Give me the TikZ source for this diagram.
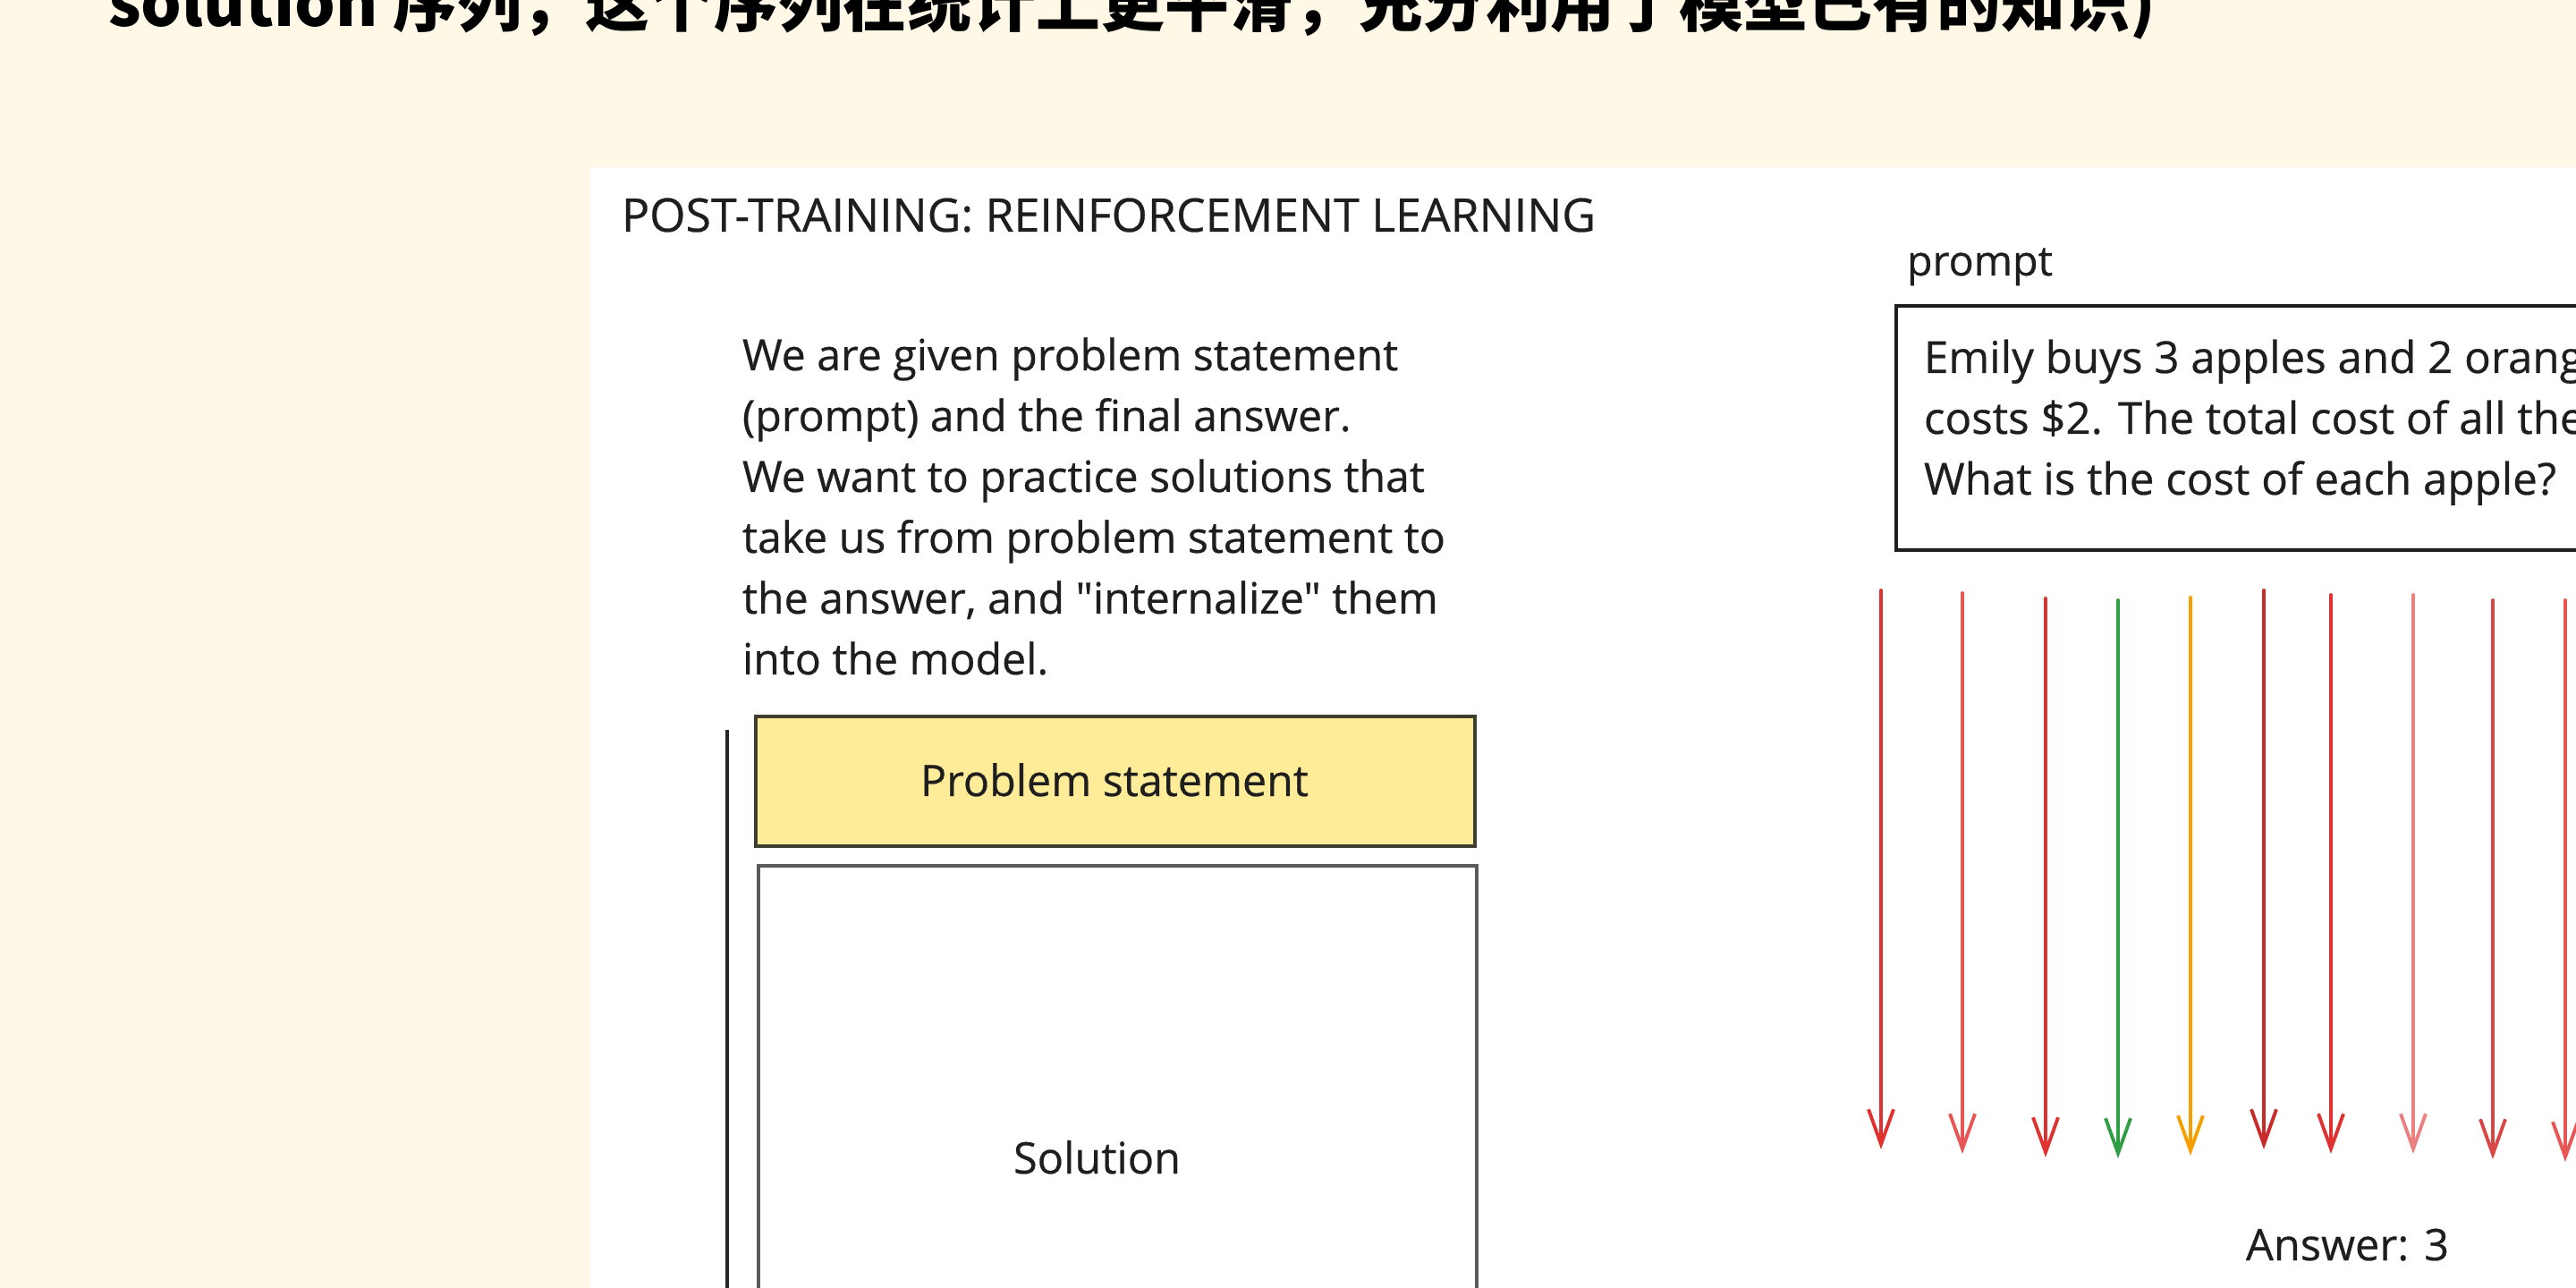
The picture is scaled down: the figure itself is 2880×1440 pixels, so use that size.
\documentclass[tikz,border=0pt]{standalone}
\usepackage{fontspec}
\setmainfont{Open Sans}[FakeBold=0.5, Ligatures=TeXOff]
\newfontfamily\cjk{Noto Sans CJK SC}
\usetikzlibrary{arrows.meta}
\definecolor{bgcream}{HTML}{FFF8E7}
\definecolor{inkgray}{HTML}{1E1E1E}
\definecolor{boxyellow}{HTML}{FFEC99}
\definecolor{yedge}{HTML}{3F3D30}
\definecolor{soledge}{HTML}{5A5A5A}
\definecolor{arred}{HTML}{E03131}
\definecolor{arredl}{HTML}{E85555}
\definecolor{arredd}{HTML}{C92A2A}
\definecolor{arredp}{HTML}{EB8080}
\definecolor{arredm}{HTML}{D84646}
\definecolor{argreen}{HTML}{2F9E44}
\definecolor{arorange}{HTML}{F5A000}
\newlength\fitlen
\newcommand\fitsize[3]{\settowidth{\fitlen}{\fontsize{10pt}{12pt}\selectfont #3}\pgfmathsetmacro#1{10*(#2)/\fitlen}}
\tikzset{
  txt/.style={inner sep=0pt, outer sep=0pt, text=inkgray, anchor=base west},
  boxst/.style={draw, inner sep=0pt, outer sep=0pt, anchor=north west, line width=1.1pt},
  rlarrow/.style={line width=1.1pt, line cap=round, -{Straight Barb[length=3.9mm,width=2.8mm]}},
}
\begin{document}
\fitsize{\titsz}{228.9mm}{\cjk\bfseries solution 序列，这个序列在统计上更平滑，充分利用了模型已有的知识)}%
\fitsize{\headsz}{108.9mm}{POST-TRAINING: REINFORCEMENT LEARNING}%
\fitsize{\parsz}{78.6mm}{take us from problem statement to}%
\fitsize{\prsz}{70.7mm}{What is the cost of each apple?}%
\fitsize{\plsz}{16.3mm}{prompt}%
\fitsize{\pssz}{43.4mm}{Problem statement}%
\fitsize{\solsz}{18.7mm}{Solution}%
\fitsize{\anssz}{22.7mm}{Answer: 3}%
\begin{tikzpicture}[x=0.1mm,y=-0.1mm]
\useasboundingbox (0,0) rectangle (2880,1440);
\clip (0,0) rectangle (2880,1440);
% backgrounds
\fill[bgcream] (0,0) rectangle (2880,1440);
\fill[white] (660,187) rectangle (2900,1460);
% top cut-off caption
\node[txt, text=black, font={\cjk\bfseries\fontsize{\titsz pt}{\titsz pt}\selectfont}] (cap) at (121,30)
  {solution 序列，这个序列在统计上更平滑，充分利用了模型已有的知识)};
% heading
\node[txt, font={\fontsize{\headsz pt}{\headsz pt}\selectfont}] (head) at (695,259)
  {POST-TRAINING: REINFORCEMENT LEARNING};
% paragraph
\node[txt, font={\fontsize{\parsz pt}{6.8mm}\selectfont}] (para) at (830,414)
  {\begin{tabular}[t]{@{}l@{}}We are given problem statement\\
   (prompt) and the final answer.\\
   We want to practice solutions that\\
   take us from problem statement to\\
   the answer, and "internalize" them\\
   into the model.\end{tabular}};
% left side
\coordinate (vtop) at (813,816);
\coordinate (vbot) at (813,1460);
\draw[line width=1.0pt, draw=black!85] (vtop) -- (vbot);
\node[boxst, draw=yedge, line width=1.2pt, fill=boxyellow, minimum width=80.4mm, minimum height=14.5mm] (ps) at (845,801) {};
\node[txt, anchor=base, font={\fontsize{\pssz pt}{\pssz pt}\selectfont}] (pslabel) at (1246,890) {Problem statement};
\node[boxst, draw=soledge, fill=white, minimum width=80.3mm, minimum height=50mm] (sol) at (848,968) {};
\node[txt, font={\fontsize{\solsz pt}{\solsz pt}\selectfont}] (sollabel) at (1133,1312) {Solution};
% right side
\node[txt, font={\fontsize{\plsz pt}{\plsz pt}\selectfont}] (plabel) at (2132,308) {prompt};
\node[boxst, draw=inkgray, line width=1.4pt, fill=white, minimum width=90mm, minimum height=27.3mm] (pbox) at (2120,342) {};
\node[txt, font={\fontsize{\prsz pt}{6.8mm}\selectfont}] (ptext) at (2151,417)
  {\begin{tabular}[t]{@{}l@{}}Emily buys 3 apples and 2 orang\\
   costs \$2. The total cost of all the\\
   What is the cost of each apple?\end{tabular}};
\foreach \i/\x/\t/\b/\c in {1/2103/660/1285/arred, 2/2194/663/1290/arredl, 3/2287/669/1294/arred,
   4/2368/671/1295/argreen, 5/2449/668/1292/arorange, 6/2531/660/1285/arredd,
   7/2606/665/1290/arred, 8/2698/665/1290/arredp, 9/2787/671/1296/arredm, 10/2868/671/1299/arredl}{
  \coordinate (s\i) at (\x,\t);
  \coordinate (e\i) at (\x,\b);
  \draw[rlarrow, draw=\c] (s\i) -- (e\i);
}
\node[txt, font={\fontsize{\anssz pt}{\anssz pt}\selectfont}] (ans) at (2511,1409) {Answer: 3};
\end{tikzpicture}
\end{document}
